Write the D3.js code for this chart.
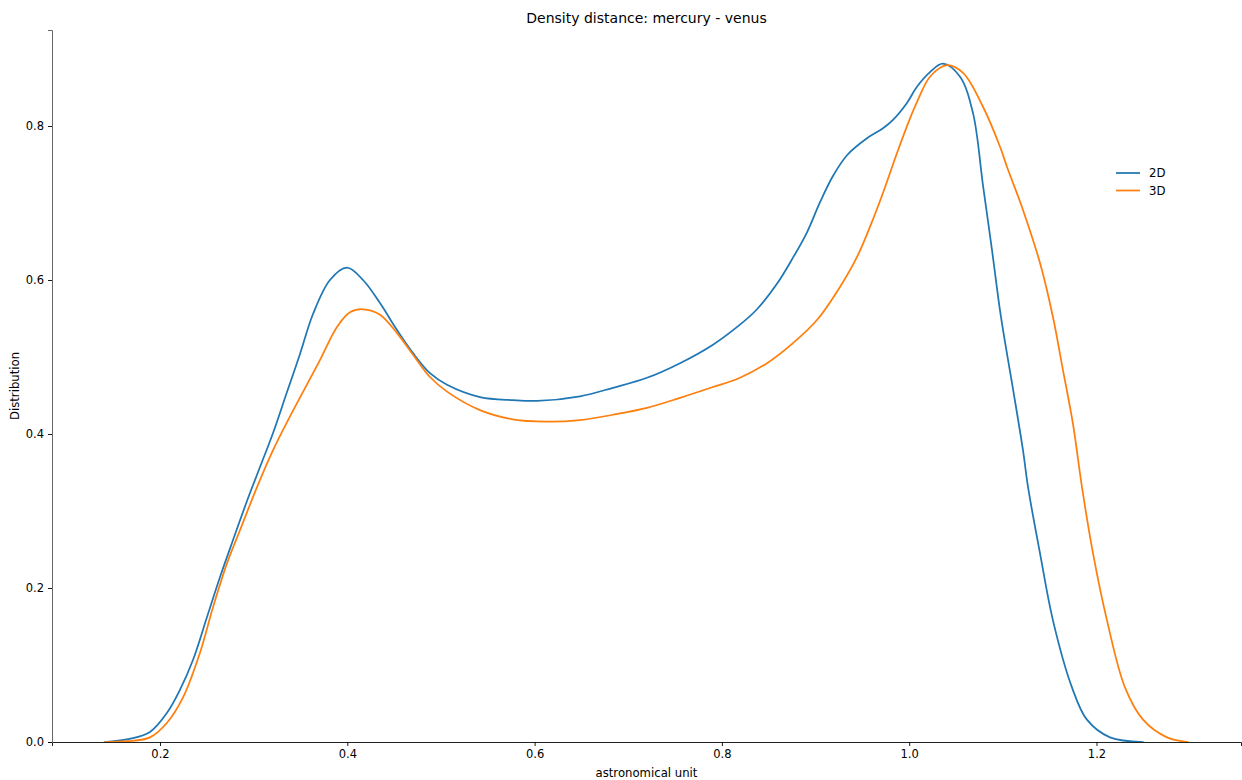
<!DOCTYPE html>
<html>
<head>
<meta charset="utf-8">
<script src="https://cdn.jsdelivr.net/npm/d3@7"></script>
<style>
  html, body { margin: 0; padding: 0; background: #fff; }
  svg { display: block; font-family: "DejaVu Sans", sans-serif; }
</style>
</head>
<body>
<svg id="chart" width="1242" height="780"></svg>
<script>
// ---- data ----
const seriesNames = ["2D", "3D"];
const seriesColors = ["#1f77b4", "#ff7f0e"];

const x2D = [0.1413,0.1712,0.1893,0.2075,0.2214,0.2352,0.2502,0.2641,0.2780,0.2929,0.3068,0.3207,0.3356,0.3495,0.3634,0.3815,0.3997,0.4168,0.4349,0.4531,0.4702,0.4883,0.5065,0.5417,0.5769,0.6026,0.6485,0.6837,0.7200,0.7553,0.7905,0.8193,0.8375,0.8588,0.8759,0.8909,0.9048,0.9186,0.9336,0.9549,0.9720,0.9827,0.9976,1.0083,1.0222,1.0361,1.0543,1.0681,1.0788,1.0884,1.0980,1.1098,1.1215,1.1269,1.1397,1.1535,1.1738,1.1898,1.2144,1.2497];
const y2D = [0,0.005,0.013,0.038,0.068,0.1065,0.1623,0.2143,0.2623,0.3130,0.3571,0.4013,0.4545,0.5039,0.5558,0.600,0.616,0.600,0.570,0.535,0.505,0.479,0.464,0.448,0.444,0.443,0.449,0.460,0.473,0.492,0.516,0.542,0.562,0.595,0.629,0.662,0.701,0.735,0.762,0.784,0.797,0.808,0.830,0.851,0.870,0.881,0.864,0.817,0.723,0.639,0.552,0.466,0.379,0.331,0.245,0.158,0.071,0.029,0.006,0];

const x3D = [0.1413,0.1648,0.1893,0.2075,0.2246,0.2427,0.2566,0.2715,0.2854,0.3036,0.3207,0.3367,0.3708,0.3890,0.4029,0.4168,0.4349,0.4531,0.4702,0.4883,0.5065,0.5417,0.5769,0.6132,0.6485,0.6837,0.7200,0.7553,0.7905,0.8193,0.8482,0.8759,0.9015,0.9261,0.9443,0.9581,0.9720,0.9870,1.0009,1.0083,1.0222,1.0404,1.0575,1.0788,1.0970,1.1044,1.1215,1.1397,1.1535,1.1642,1.1749,1.1845,1.1963,1.2112,1.2304,1.2497,1.2753,1.2977];
const y3D = [0,0.001,0.006,0.025,0.058,0.116,0.175,0.232,0.275,0.331,0.379,0.418,0.496,0.539,0.558,0.562,0.555,0.531,0.503,0.474,0.455,0.431,0.419,0.416,0.418,0.425,0.434,0.447,0.461,0.473,0.492,0.518,0.548,0.591,0.630,0.669,0.713,0.765,0.810,0.831,0.864,0.879,0.869,0.825,0.773,0.747,0.691,0.622,0.552,0.483,0.413,0.331,0.245,0.158,0.071,0.029,0.006,0];

const xTicks = [0.2, 0.4, 0.6, 0.8, 1.0, 1.2];
const yTicks = [0.0, 0.2, 0.4, 0.6, 0.8];
const titleText = "Density distance: mercury - venus";
const xLabel = "astronomical unit";
const yLabel = "Distribution";

// ---- layout ----
const W = 1242, H = 780;
const margin = {left: 52, right: 1, top: 30, bottom: 38};
const svg = d3.select("#chart");

const x = d3.scaleLinear().domain([0.08468, 1.35431]).range([margin.left, W - margin.right]);
const y = d3.scaleLinear().domain([0, 0.92468]).range([H - margin.bottom, margin.top]);

const series = [
  {name: seriesNames[0], color: seriesColors[0], pts: x2D.map((v, i) => [v, y2D[i]])},
  {name: seriesNames[1], color: seriesColors[1], pts: x3D.map((v, i) => [v, y3D[i]])}
];

const line = d3.line()
  .x(d => x(d[0]))
  .y(d => y(d[1]))
  .curve(d3.curveCatmullRom.alpha(0.5));

svg.append("g").selectAll("path")
  .data(series)
  .join("path")
  .attr("d", d => line(d.pts))
  .attr("fill", "none")
  .attr("stroke", d => d.color)
  .attr("stroke-width", 1.75)
  .attr("stroke-linejoin", "round")
  .attr("stroke-linecap", "round");

// axes
const xAxis = svg.append("g")
  .attr("transform", `translate(0,${H - margin.bottom})`)
  .call(d3.axisBottom(x).tickValues(xTicks).tickFormat(d3.format(".1f")).tickSizeOuter(0).tickSize(4).tickPadding(4));
const yAxis = svg.append("g")
  .attr("transform", `translate(${margin.left},0)`)
  .call(d3.axisLeft(y).tickValues(yTicks).tickFormat(d3.format(".1f")).tickSizeOuter(0).tickSize(4).tickPadding(4));

[xAxis, yAxis].forEach(g => {
  g.selectAll("text").attr("font-size", 11.5).attr("fill", "#000").attr("font-family", "DejaVu Sans, sans-serif");
  g.selectAll(".tick line").attr("stroke", "#000").attr("stroke-width", 0.9);
});
xAxis.select(".domain").attr("stroke", "#222").attr("stroke-width", 1);
yAxis.select(".domain").attr("stroke", "#666").attr("stroke-width", 1);

// title & labels
svg.append("text")
  .attr("x", (margin.left + W - margin.right) / 2)
  .attr("y", 23)
  .attr("text-anchor", "middle")
  .attr("font-size", 14)
  .attr("fill", "#000")
  .text(titleText);

svg.append("text")
  .attr("x", (margin.left + W - margin.right) / 2)
  .attr("y", 777)
  .attr("text-anchor", "middle")
  .attr("font-size", 11.7)
  .attr("fill", "#000")
  .text(xLabel);

svg.append("text")
  .attr("transform", `translate(19,${(margin.top + H - margin.bottom) / 2}) rotate(-90)`)
  .attr("text-anchor", "middle")
  .attr("font-size", 11.7)
  .attr("fill", "#000")
  .text(yLabel);

// legend
const legend = svg.append("g").attr("transform", "translate(1116,173)");
series.forEach((s, i) => {
  const g = legend.append("g").attr("transform", `translate(0,${i * 17.5})`);
  g.append("line").attr("x1", 0).attr("x2", 24).attr("y1", 0).attr("y2", 0)
    .attr("stroke", s.color).attr("stroke-width", 1.75);
  g.append("text").attr("x", 33).attr("y", 0).attr("dy", "0.36em")
    .attr("font-size", 11.7).attr("fill", "#000").text(s.name);
});
</script>
</body>
</html>
